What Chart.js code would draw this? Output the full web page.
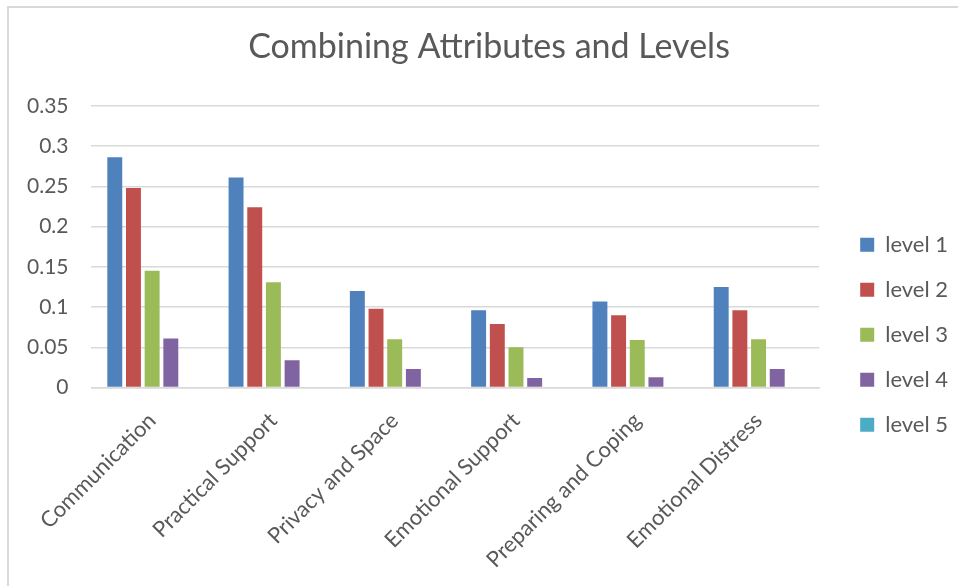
<!DOCTYPE html>
<html>
<head>
<meta charset="utf-8">
<script src="https://cdn.jsdelivr.net/npm/chart.js@4.4.1/dist/chart.umd.min.js"></script>
<style>
  html, body { margin: 0; padding: 0; background: #fff; overflow: hidden; }
  #frame { position: absolute; left: 7px; top: 6px; width: 1000px; height: 620px;
           border-left: 2px solid #d9d9d9; border-top: 2px solid #d9d9d9; }
  #wrap { position: absolute; left: 0; top: 0; width: 974px; height: 586px; }
</style>
</head>
<body>
<div id="frame"></div>
<div id="wrap"><canvas id="myChart" width="974" height="586"></canvas></div>
<script>
var categories = ['Communication', 'Practical Support', 'Privacy and Space', 'Emotional Support', 'Preparing and Coping', 'Emotional Distress'];
var level1 = [0.286, 0.261, 0.120, 0.096, 0.107, 0.125];
var level2 = [0.248, 0.224, 0.098, 0.079, 0.090, 0.096];
var level3 = [0.145, 0.131, 0.060, 0.050, 0.059, 0.060];
var level4 = [0.061, 0.034, 0.023, 0.012, 0.013, 0.023];
var level5 = [0, 0, 0, 0, 0, 0];
var yTickLabels = ['0', '0.05', '0.1', '0.15', '0.2', '0.25', '0.3', '0.35'];

var ctx = document.getElementById('myChart').getContext('2d');
Chart.defaults.font.family = 'Lato, "Open Sans", sans-serif';
Chart.defaults.color = '#595959';

// empty spacer axes, used only to leave room around the legend
function spacer(w, weight) {
  return {
    position: 'right',
    weight: weight,
    display: true,
    grid: { display: false },
    border: { display: false },
    ticks: { display: false },
    afterFit: function (scale) { scale.width = w; }
  };
}

var chart = new Chart(ctx, {
  type: 'bar',
  data: {
    labels: categories,
    datasets: [
      { label: 'level 1', data: level1, backgroundColor: '#4F81BD' },
      { label: 'level 2', data: level2, backgroundColor: '#C0504D' },
      { label: 'level 3', data: level3, backgroundColor: '#9BBB59' },
      { label: 'level 4', data: level4, backgroundColor: '#8064A2' },
      { label: 'level 5', data: level5, backgroundColor: '#4BACC6' }
    ]
  },
  options: {
    responsive: false,
    animation: false,
    datasets: {
      bar: { categoryPercentage: 0.77, barPercentage: 0.8 }
    },
    layout: { padding: { left: 4, right: 0, top: 0, bottom: 1 } },
    plugins: {
      title: {
        display: true,
        text: 'Combining Attributes and Levels',
        font: { size: 34, weight: 'normal' },
        color: '#595959',
        padding: { top: 27, bottom: 38 }
      },
      legend: {
        position: 'right',
        title: { display: true, text: '', padding: { top: 70, bottom: 0 } },
        labels: {
          boxWidth: 14,
          boxHeight: 14,
          padding: 23,
          font: { size: 22 },
          color: '#595959'
        }
      },
      tooltip: { enabled: false }
    },
    scales: {
      x: {
        grid: { display: false },
        border: { color: '#d9d9d9', width: 1.5 },
        ticks: {
          autoSkip: false,
          maxRotation: 45,
          minRotation: 45,
          font: { size: 22 },
          padding: 12
        }
      },
      y: {
        min: 0,
        max: 0.35,
        ticks: {
          stepSize: 0.05,
          font: { size: 21 },
          padding: 23,
          callback: function (value, index) { return yTickLabels[index]; }
        },
        grid: { color: '#d9d9d9', lineWidth: 1.5, drawTicks: false },
        border: { display: false }
      },
      yGapInner: spacer(18, 0),
      yGapOuter: spacer(16, 2000)
    }
  }
});
</script>
</body>
</html>
